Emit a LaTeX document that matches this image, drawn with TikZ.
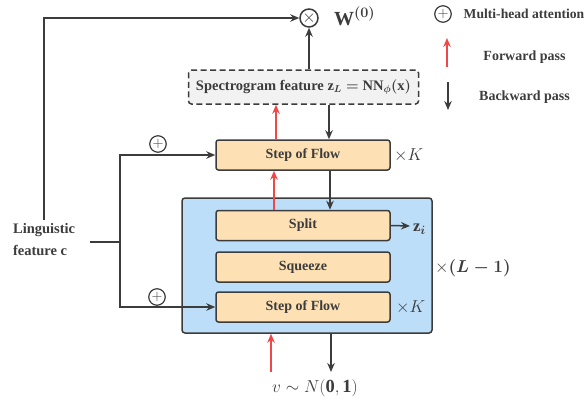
\documentclass[tikz,border=0pt]{standalone}
\usepackage{amsmath}
\usepackage{amssymb}
\usepackage{fontspec}
\setmainfont{Liberation Serif}
\usepackage{xcolor}
\usetikzlibrary{
    arrows.meta,
    positioning
}
\definecolor{linegray}{HTML}{3C3C3C}
\definecolor{flowfill}{HTML}{FDE0B4}
\definecolor{multifill}{HTML}{BDDEF8}
\definecolor{specfill}{HTML}{F2F2F2}
\definecolor{fwdred}{HTML}{F04848}

\begin{document}
\begin{tikzpicture}[x=1pt,y=-1pt,>={Stealth[length=9pt,width=7.5pt]},line width=1.5pt,draw=linegray,
    text=linegray,font=\fontsize{14}{16}\selectfont\bfseries]
    \tikzstyle{block}=[draw=linegray, fill=flowfill, rounded corners=2.5pt, minimum width=174pt, minimum height=30pt, inner sep=0pt]
    \tikzstyle{plus}=[circle, draw=linegray, line width=1.2pt, minimum size=16.5pt, inner sep=0pt, font=\fontsize{15}{15}\selectfont]
    \tikzstyle{fwd}=[->, draw=fwdred]
    \tikzstyle{bwd}=[->, draw=linegray]
    \tikzstyle{mathlbl}=[font=\fontsize{16.5}{18}\selectfont]
    \useasboundingbox (0,0) rectangle (587,402);

    % main blocks
    \node [draw=linegray, fill=multifill, rounded corners=3pt, minimum width=250pt, minimum height=135pt] (multi) at (307,265.5) {};
    \node [draw=linegray, fill=specfill, dash pattern=on 6pt off 3.5pt, rounded corners=3pt, minimum width=230pt, minimum height=34pt, inner sep=0pt, font=\fontsize{14.5}{16}\selectfont\bfseries] (spec) at (303.5,87) {Spectrogram feature $\mathbf{z}_{\boldsymbol{L}} \boldsymbol{=} \mathbf{NN}_{\boldsymbol{\phi}}\boldsymbol{(}\mathbf{x}\boldsymbol{)}$};
    \node [block] (flowtop) at (303,155) {Step of Flow};
    \node [block] (split) at (303,225.5) {Split};
    \node [block] (squeeze) at (303,267) {Squeeze};
    \node [block] (flowbot) at (303,307) {Step of Flow};
    \node [circle, draw=linegray, minimum size=18pt, inner sep=0pt, font=\fontsize{18}{18}\selectfont] (prod) at (309,18) {$\times$};
    \node [mathlbl, anchor=west, font=\fontsize{20}{20}\selectfont] (w0) at (330,16) {$\mathbf{W}^{\boldsymbol{(0)}}$};

    % repeat labels
    \node [mathlbl, anchor=west] (ktop) at (390,155) {$\times K$};
    \node [mathlbl, anchor=west] (kbot) at (392,307) {$\times K$};
    \node [mathlbl, anchor=west] (lrep) at (431,268) {$\times\boldsymbol{(L-1)}$};
    \coordinate (zend) at (410,226);
    \node [mathlbl, anchor=west] (zi) at (409,229) {$\mathbf{z}_{\boldsymbol{i}}$};

    % inputs
    \node [align=left, anchor=west, font=\fontsize{14.5}{22}\selectfont\bfseries] (ling) at (9,240) {Linguistic\\feature $\mathbf{c}$};
    \coordinate (junc) at (120,242);
    \node [plus] (ptop) at (158,144) {$+$};
    \node [plus] (pbot) at (157,297) {$+$};
    \coordinate (noisefwd) at (271,372);
    \coordinate (noisebwd) at (331,372);
    \node [mathlbl, font=\fontsize{18.5}{20}\selectfont] (noise) at (315,388) {$v \sim N(\mathbf{0},\mathbf{1})$};

    % connectors
    \draw [->] (ling.north) -- (ling.north |- prod) -- (prod.west);
    \draw ([xshift=11pt]ling.east |- junc) -- (junc);
    \draw [->] (junc) |- (flowtop.west);
    \draw [->] (junc) |- (flowbot.west);
    \draw [->] (prod |- spec.north) -- (prod.south);
    \draw [bwd] (spec.south -| 329,0) -- (flowtop.north -| 329,0);
    \draw [fwd] (flowtop.north -| 276,0) -- (spec.south -| 276,0);
    \draw [bwd] (flowtop.south -| 330,0) -- (split.north -| 330,0);
    \draw [fwd] (split.north -| 274,0) -- (flowtop.south -| 274,0);
    \draw [->] (split.east) -- (zend);
    \draw [fwd] (noisefwd) -- (noisefwd |- multi.south);
    \draw [bwd] (noisebwd |- multi.south) -- (noisebwd);

    % legend
    \node [plus] (lplus) at (443,14) {$+$};
    \node [anchor=east, inner sep=1pt, font=\fontsize{13.6}{16}\selectfont\bfseries] (lmha) at (586,14) {Multi-head attention};
    \coordinate (lfwda) at (447,67);
    \coordinate (lfwdb) at (447,38);
    \draw [fwd] (lfwda) -- (lfwdb);
    \node (lfwd) at (524.5,57) {Forward pass};
    \coordinate (lbwda) at (448,82);
    \coordinate (lbwdb) at (448,110);
    \draw [bwd] (lbwda) -- (lbwdb);
    \node (lbwd) at (524.5,97) {Backward pass};
\end{tikzpicture}
\end{document}
